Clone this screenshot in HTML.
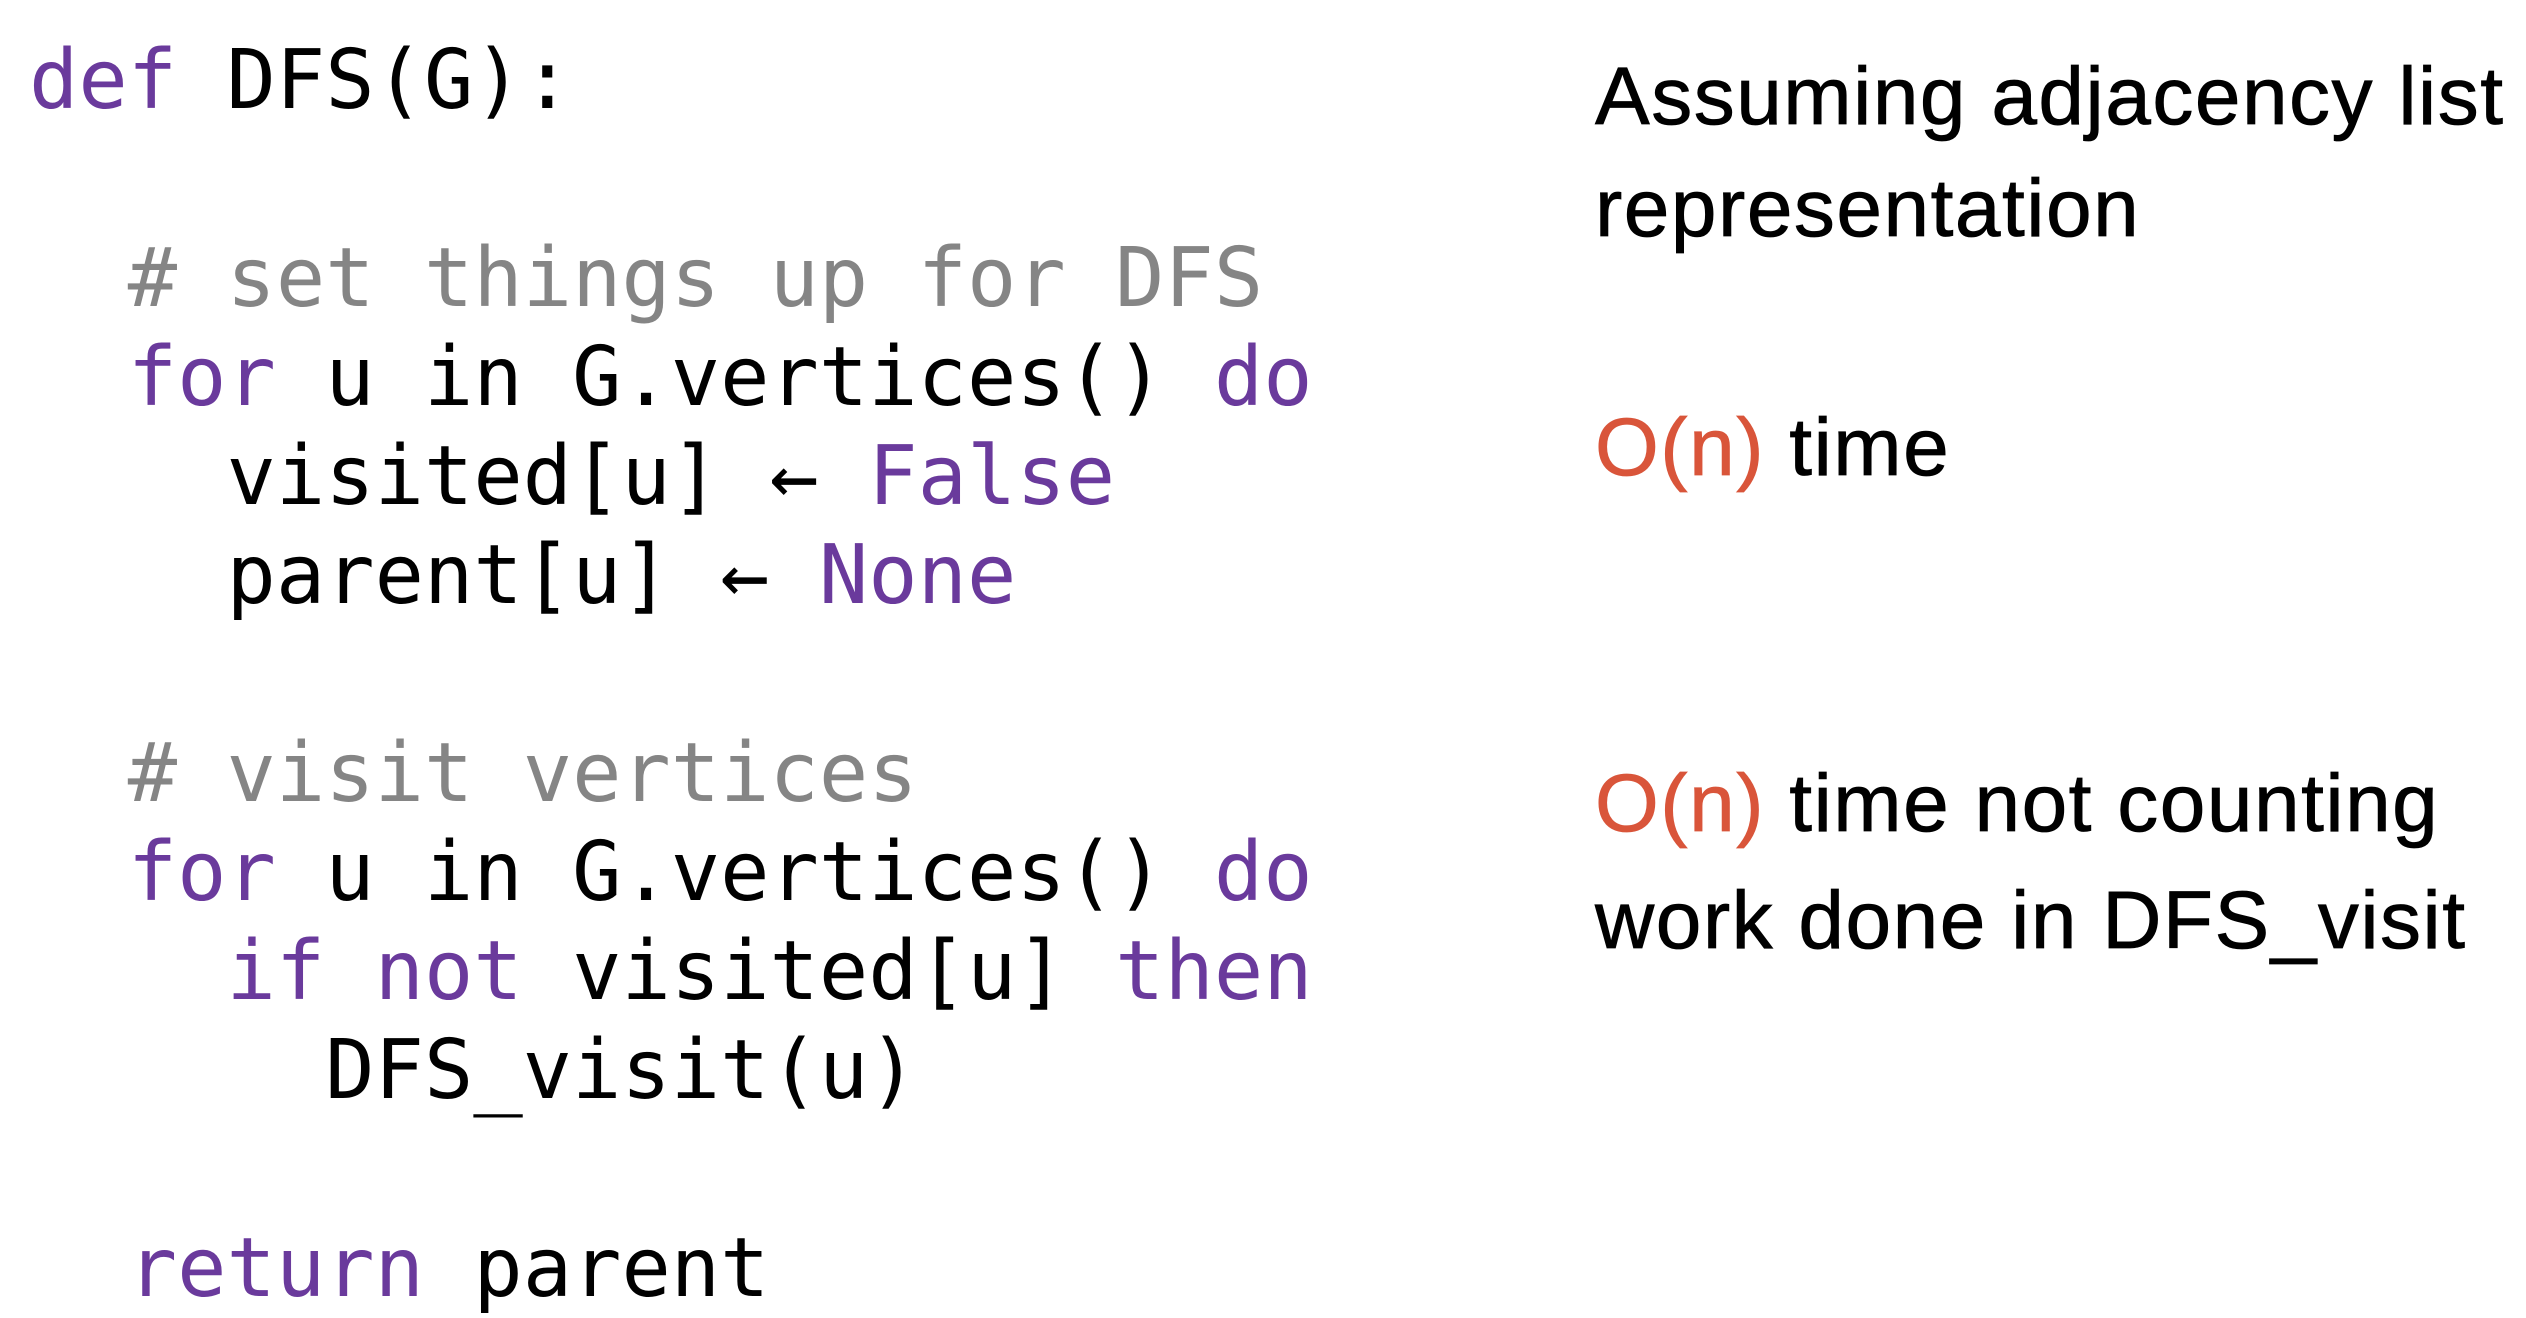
<!DOCTYPE html>
<html><head><meta charset="utf-8"><style>
html,body{margin:0;padding:0;background:#fff;}
body{width:2526px;height:1318px;position:relative;overflow:hidden;}
.code{position:absolute;left:29px;top:0;font-family:"DejaVu Sans Mono","Liberation Mono",monospace;font-size:82px;line-height:99px;color:#000;white-space:pre;margin:0;padding-top:31px;}
.k{color:#6a3a9c}.c{color:#858585}
.t{position:absolute;left:1595px;font-family:"Liberation Sans",sans-serif;font-size:82px;letter-spacing:1.5px;color:#000;white-space:nowrap;line-height:1;-webkit-text-stroke:0.8px #000;}
.o{color:#d9553a;-webkit-text-stroke:0.8px #d9553a}
</style></head><body>
<pre class="code"><span class="k">def</span> DFS(G):

  <span class="c"># set things up for DFS</span>
  <span class="k">for</span> u in G.vertices() <span class="k">do</span>
    visited[u] ← <span class="k">False</span>
    parent[u] ← <span class="k">None</span>

  <span class="c"># visit vertices</span>
  <span class="k">for</span> u in G.vertices() <span class="k">do</span>
    <span class="k">if</span> <span class="k">not</span> visited[u] <span class="k">then</span>
      DFS_visit(u)

  <span class="k">return</span> parent</pre>
<div class="t" style="top:56px">Assuming adjacency list</div>
<div class="t" style="top:168px">representation</div>
<div class="t" style="top:407px"><span class="o">O(n)</span> time</div>
<div class="t" style="top:763px"><span class="o">O(n)</span> time not counting</div>
<div class="t" style="top:880px">work done in DFS_visit</div>
</body></html>
